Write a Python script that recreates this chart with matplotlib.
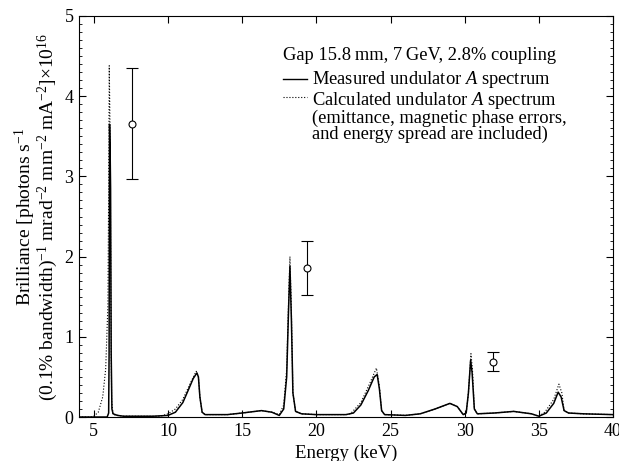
import matplotlib
matplotlib.use("Agg")
import matplotlib.pyplot as plt
from matplotlib.ticker import MultipleLocator

plt.rcParams['font.family'] = 'Liberation Serif'
plt.rcParams['mathtext.fontset'] = 'custom'
plt.rcParams['mathtext.rm'] = 'Liberation Serif'
plt.rcParams['mathtext.it'] = 'Liberation Serif:italic'

# Espectro medido (línea continua)
e_med = [4.0, 5.0, 5.9, 6.0, 6.03, 6.06, 6.1, 6.13, 6.17, 6.22, 6.3, 6.6, 7.0, 9.0, 10.0,
         10.5, 11.0, 11.4, 11.7, 11.95, 12.05, 12.15, 12.3, 12.5, 14.0, 15.0, 16.3, 17.0,
         17.5, 17.8, 18.0, 18.12, 18.22, 18.32, 18.42, 18.6, 19.0, 20.0, 22.0, 22.5, 23.0,
         23.5, 23.9, 24.1, 24.25, 24.4, 24.6, 26.0, 27.0, 28.0, 29.0, 29.5, 29.9, 30.1,
         30.25, 30.4, 30.5, 30.65, 30.85, 32.0, 33.3, 34.5, 35.0, 35.5, 36.0, 36.3, 36.5,
         36.7, 37.0, 38.0, 40.0]
b_med = [0.0, 0.0, 0.0, 0.05, 0.8, 3.65, 3.3, 2.85, 0.8, 0.1, 0.04, 0.02, 0.01, 0.01, 0.02,
         0.06, 0.18, 0.35, 0.48, 0.55, 0.5, 0.25, 0.06, 0.03, 0.03, 0.05, 0.08, 0.06,
         0.02, 0.1, 0.5, 1.3, 1.88, 1.2, 0.3, 0.07, 0.04, 0.03, 0.03, 0.05, 0.15,
         0.33, 0.5, 0.53, 0.35, 0.08, 0.03, 0.02, 0.04, 0.1, 0.17, 0.13, 0.03, 0.05,
         0.3, 0.71, 0.55, 0.1, 0.04, 0.05, 0.07, 0.04, 0.01, 0.05, 0.17, 0.31, 0.25,
         0.08, 0.05, 0.04, 0.03]

# Espectro calculado (línea punteada)
e_calc = [4.0, 4.8, 5.0, 5.3, 5.6, 5.8, 5.95, 6.0, 6.04, 6.1, 6.15, 6.2, 6.3, 7.0, 9.5,
          10.0, 10.5, 11.0, 11.5, 11.9, 12.05, 12.15, 12.3, 12.5, 14.0, 15.0, 16.3, 17.0,
          17.5, 17.8, 18.0, 18.12, 18.22, 18.32, 18.42, 18.6, 19.0, 20.0, 22.0, 22.3, 23.0,
          23.6, 24.05, 24.25, 24.4, 24.6, 26.0, 27.0, 28.0, 29.0, 29.5, 29.9, 30.1, 30.25,
          30.42, 30.52, 30.65, 30.85, 32.0, 33.3, 34.5, 35.0, 35.4, 36.0, 36.35, 36.55,
          36.7, 37.0, 38.0, 40.0]
b_calc = [0.0, 0.0, 0.01, 0.06, 0.25, 0.6, 1.4, 2.8, 4.38, 3.5, 1.5, 0.2, 0.03, 0.01, 0.01,
          0.04, 0.1, 0.22, 0.42, 0.57, 0.5, 0.25, 0.06, 0.03, 0.03, 0.05, 0.08, 0.06,
          0.03, 0.15, 0.6, 1.4, 2.0, 1.3, 0.3, 0.07, 0.04, 0.03, 0.03, 0.04, 0.18,
          0.42, 0.61, 0.38, 0.08, 0.03, 0.02, 0.04, 0.1, 0.17, 0.13, 0.03, 0.05, 0.3,
          0.79, 0.6, 0.1, 0.04, 0.05, 0.07, 0.04, 0.01, 0.06, 0.22, 0.41, 0.3,
          0.08, 0.05, 0.04, 0.03]

# Puntos con barras de error
e_pts = [7.55, 19.4, 31.9]
b_pts = [3.65, 1.86, 0.69]
b_low = [2.97, 1.52, 0.57]
b_high = [4.35, 2.19, 0.81]

W, H = 619, 461
fig = plt.figure(figsize=(W / 100, H / 100), dpi=100)
ax = fig.add_axes([0.1276, 0.0954, 0.8628, 0.8699])

ax.plot(e_med, b_med, color='black', lw=1.1)
ax.plot(e_calc, b_calc, color='black', lw=0.8, linestyle=':')

err_lo = [b - l for b, l in zip(b_pts, b_low)]
err_hi = [h - b for b, h in zip(b_pts, b_high)]
ax.errorbar(e_pts, b_pts, yerr=[err_lo, err_hi], fmt='o', mfc='white', mec='black',
            ms=5, mew=0.8, ecolor='black', elinewidth=0.8, capsize=4, capthick=0.8)

ax.set_xlim(4, 40)
ax.set_ylim(0, 5)
ax.xaxis.set_major_locator(MultipleLocator(5))
ax.yaxis.set_major_locator(MultipleLocator(1))
ax.yaxis.set_minor_locator(MultipleLocator(0.1))
ax.tick_params(which='both', direction='in', top=True, right=True, labelsize=13, pad=4)
ax.tick_params(which='major', length=5)
ax.tick_params(which='minor', length=2.5)

ax.set_xlabel("Energy (keV)", fontsize=13.5, labelpad=4)
ax.set_ylabel("Brilliance [photons s$^{-1}$\n"
              "(0.1% bandwidth)$^{-1}$ mrad$^{-2}$ mm$^{-2}$ mA$^{-2}$]$\\times$10$^{16}$",
              fontsize=14, labelpad=3, linespacing=0.9)

# Texto de la leyenda (posiciones en píxeles de la figura)
def px(x, y):
    return x / W, 1 - y / H

fs_leg = 13.3
fig.text(*px(283, 55), "Gap 15.8\u2009mm, 7\u2009GeV, 2.8% coupling", fontsize=fs_leg, va='center')
fig.add_artist(plt.Line2D([283 / W, 307 / W], [1 - 79 / H] * 2, color='black', lw=1.0))
fig.add_artist(plt.Line2D([283 / W, 307 / W], [1 - 97 / H] * 2, color='black', lw=0.8, linestyle=':'))
fig.text(*px(312, 79), "Measured undulator $A$ spectrum", fontsize=fs_leg, va='center')
fig.text(*px(312, 90), "Calculated undulator $A$ spectrum\n(emittance, magnetic phase errors,\n"
         "and energy spread are included)", fontsize=fs_leg, va='top', linespacing=0.9)

fig.savefig("out.png", dpi=100)
